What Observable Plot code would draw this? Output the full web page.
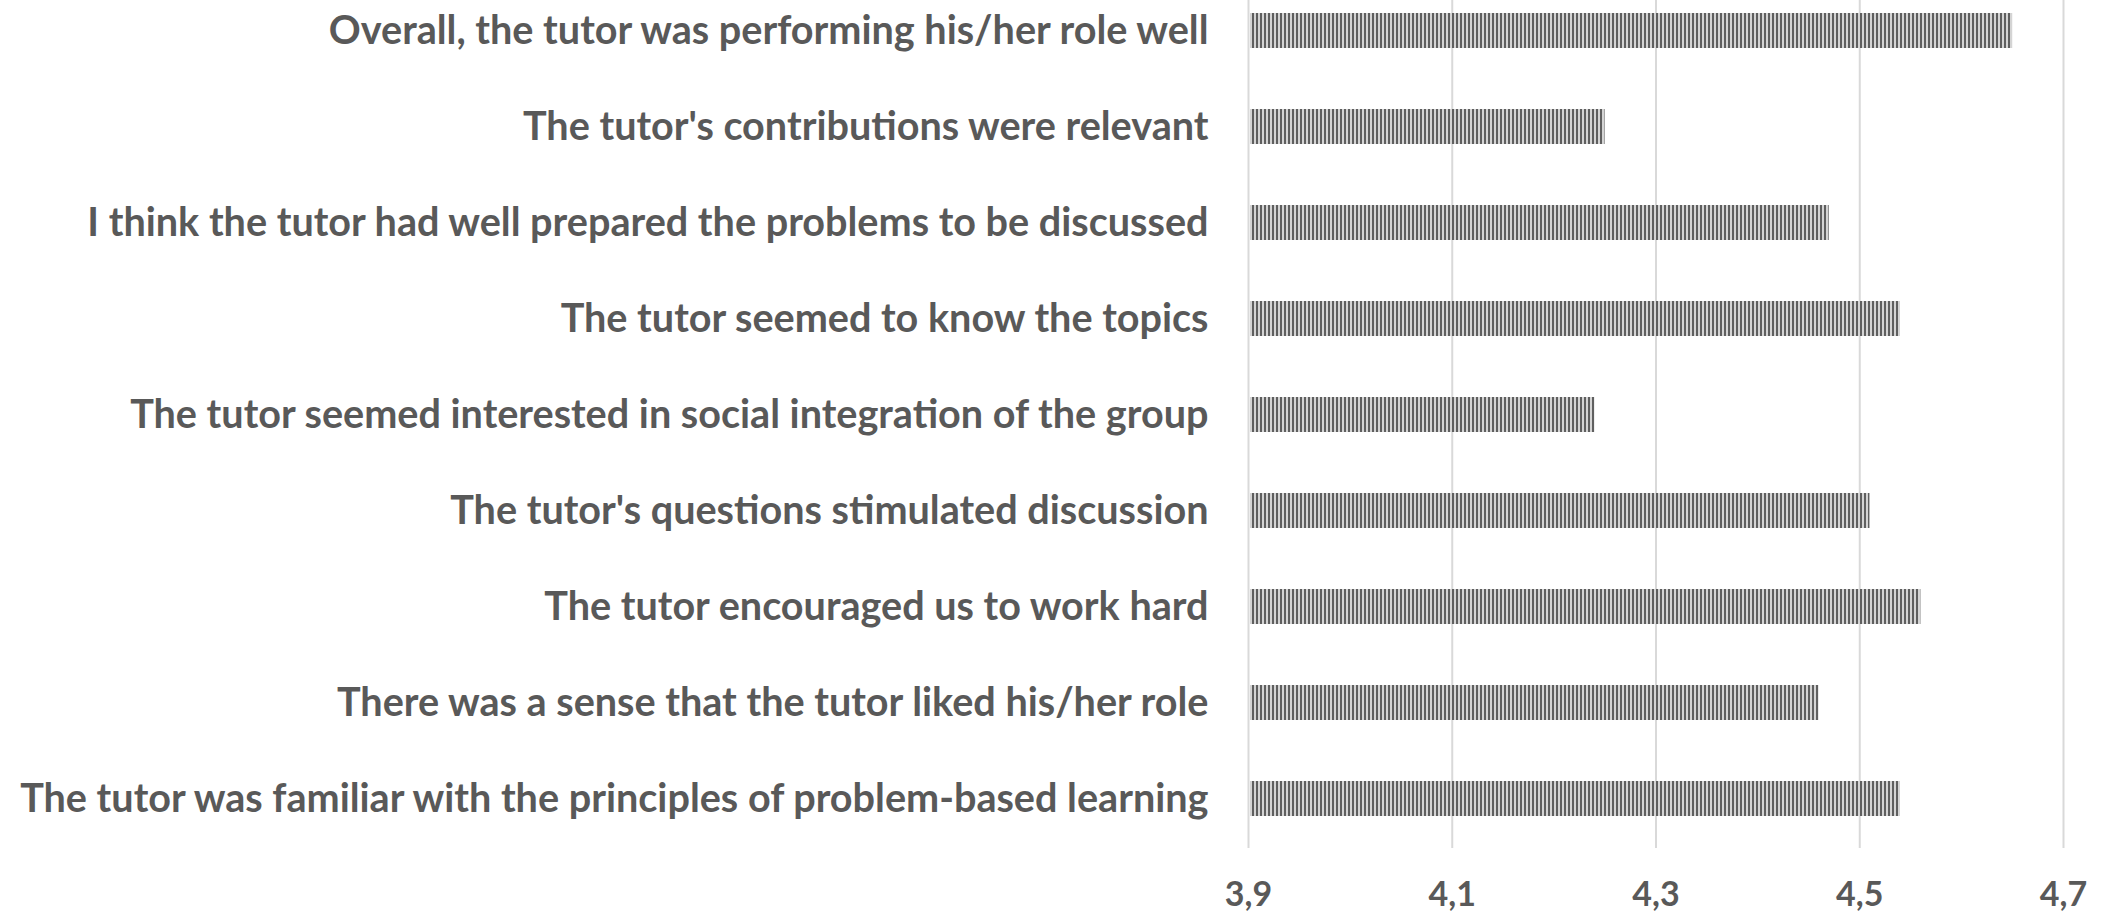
<!DOCTYPE html>
<html>
<head>
<meta charset="utf-8">
<script src="https://cdn.jsdelivr.net/npm/d3@7"></script>
<script src="https://cdn.jsdelivr.net/npm/@observablehq/plot@0.6"></script>
<style>
  html, body { margin: 0; padding: 0; background: #ffffff; }
  #chart svg { display: block; }
</style>
</head>
<body>
<div id="chart"></div>
<script>
// Categories, top to bottom as shown in the chart
const statements = [
  "Overall, the tutor was performing his/her role well",
  "The tutor's contributions were relevant",
  "I think the tutor had well prepared the problems to be discussed",
  "The tutor seemed to know the topics",
  "The tutor seemed interested in social integration of the group",
  "The tutor's questions stimulated discussion",
  "The tutor encouraged us to work hard",
  "There was a sense that the tutor liked his/her role",
  "The tutor was familiar with the principles of problem-based learning"
];
// Mean scores
const scores = [4.65, 4.25, 4.47, 4.54, 4.24, 4.51, 4.56, 4.46, 4.54];
// Axis ticks
const xTicks = [3.9, 4.1, 4.3, 4.5, 4.7];

const rows = statements.map((s, i) => ({statement: s, score: scores[i]}));

const W = 2112, H = 915;
const axisLeft = 1248, axisRight = 2063, plotBottom = 848;

const chart = Plot.plot({
  width: W,
  height: H,
  marginLeft: axisLeft,
  marginRight: W - axisRight,
  marginTop: 0,
  marginBottom: H - plotBottom,
  style: {
    fontFamily: "Lato, 'Open Sans', sans-serif",
    fontWeight: "bold",
    color: "#595959",
    background: "#ffffff",
    overflow: "visible"
  },
  x: {domain: [xTicks[0], xTicks[xTicks.length - 1]], axis: null, label: null},
  y: {domain: statements, range: [-21, 849], paddingInner: 0.638, paddingOuter: 0.319, axis: null, label: null},
  marks: [
    Plot.ruleX(xTicks, {stroke: "#d9d9d9", strokeWidth: 2}),
    Plot.barX(rows, {x1: xTicks[0], x2: "score", y: "statement", fill: "url(#vstripes)", insetLeft: 2}),
    Plot.axisX({
      ticks: xTicks,
      tickFormat: d => d.toFixed(1).replace(".", ","),
      tickSize: 0,
      tickPadding: 33,
      fontSize: 34,
      fontWeight: "bold",
      label: null
    }),
    Plot.axisY({
      tickSize: 0,
      tickPadding: 40,
      fontSize: 39.6,
      fontWeight: "bold",
      label: null
    })
  ]
});

// vertical stripe pattern for the bars
const svg = d3.select(chart);
const defs = svg.insert("defs", ":first-child");
const pat = defs.append("pattern")
  .attr("id", "vstripes")
  .attr("patternUnits", "userSpaceOnUse")
  .attr("width", 4)
  .attr("height", 4);
pat.append("rect").attr("width", 4).attr("height", 4).attr("fill", "#d4d4d4");
pat.append("rect").attr("width", 2).attr("height", 4).attr("fill", "#5f5f5f");

document.getElementById("chart").appendChild(chart);
</script>
</body>
</html>
